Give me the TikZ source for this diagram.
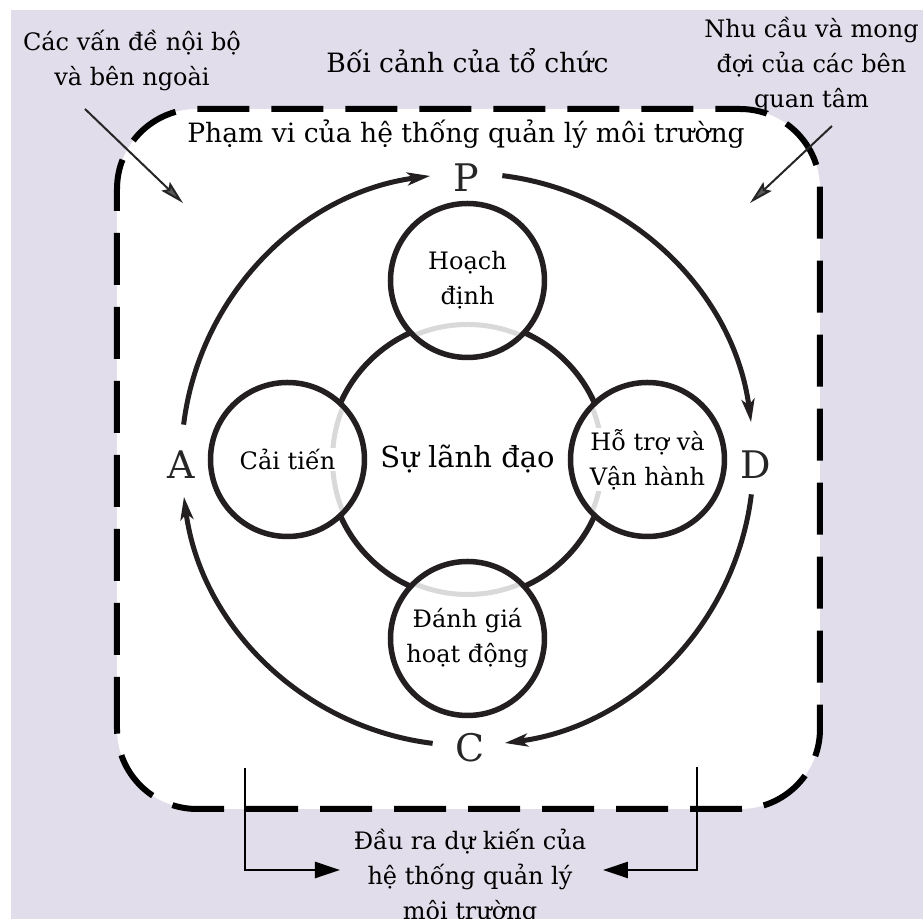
\documentclass[tikz,border=0pt]{standalone}
\usepackage{fontspec}
\setmainfont{DejaVu Serif}
\usepackage{tikz}
\usetikzlibrary{arrows.meta,positioning}

\definecolor{lavbg}{RGB}{225,221,234}
\definecolor{inkgray}{RGB}{35,31,32}

\begin{document}
\begin{tikzpicture}[x=0.5pt,y=0.5pt]
\tikzset{
  phase/.style={circle, draw=inkgray, line width=2.75pt, fill=white, minimum size=77pt, inner sep=0pt},
  phasetext/.style={fill=white, inner xsep=3pt, inner ysep=0.5pt, align=center, font=\fontsize{12}{17.5}\selectfont},
  ctxtext/.style={align=center, inner sep=0pt, font=\fontsize{12}{17.5}\selectfont},
  headtext/.style={inner sep=0pt, font=\fontsize{13.3}{16}\selectfont},
  letter/.style={inner sep=0pt, text=black!85, font=\fontsize{19}{22}\selectfont},
  cyclearrow/.style={draw=inkgray, line width=2.5pt, -{Stealth[length=11.5pt,width=6.5pt,inset=3pt]}},
  pointer/.style={draw=black!85, line width=1pt, -{Stealth[length=12pt,width=6pt,inset=2pt,fill=black!65]}},
  outarrow/.style={draw=black, line width=1.25pt, -{Triangle[length=12.5pt,width=8pt]}},
  scopeline/.style={draw=black, line width=3pt, dash pattern=on 26pt off 11pt, rounded corners=40pt, fill=white}
}
\useasboundingbox (-467.5,-459.5) rectangle (455.5,459.5);
\fill[lavbg] (-456.5,-459.5) rectangle (455.5,449.5);
\draw[scopeline] (-350.5,-349.5) rectangle (352.5,350.5);

% context and scope (base = last line)
\node[headtext, anchor=base] (context) at (0,386.5) {Bối cảnh của tổ chức};
\node[headtext, anchor=base] (ems-scope) at (-1.5,316.5) {Phạm vi của hệ thống quản lý môi trường};
\node[ctxtext, anchor=base] (issues) at (-335.5,373.5) {Các vấn đề nội bộ\\và bên ngoài};
\node[ctxtext, anchor=base] (needs) at (344,351.5) {Nhu cầu và mong\\đợi của các bên\\quan tâm};
\node[ctxtext, anchor=base] (output) at (2.5,-460.5) {Đầu ra dự kiến của\\hệ thống quản lý\\môi trường};

% leadership ring and the four phases
\node[circle, draw=inkgray, line width=2.75pt, minimum size=139pt, inner sep=0pt,
      font=\fontsize{14.5}{17}\selectfont] (lead) at (0,0) {Sự lãnh đạo};
\node[phase] (plan) at (0,179) {};
\node[phase] (support) at (180,0) {};
\node[phase] (check) at (0,-179) {};
\node[phase] (improve) at (-180,0) {};

\begin{scope}
  \clip (plan) circle (74) (support) circle (74) (check) circle (74) (improve) circle (74);
  \draw[black!15, line width=2.5pt] (lead.center) circle (135);
\end{scope}

\node[phasetext] (plan-t) at (plan) {Hoạch\\định};
\node[phasetext] (support-t) at (support) {Hỗ trợ và\\Vận hành};
\node[phasetext] (check-t) at (check) {Đánh giá\\hoạt động};
\node[phasetext] (improve-t) at (improve) {Cải tiến};

% PDCA
\node[letter] (P) at (-1.5,281.5) {P};
\node[letter] (D) at (288.5,-5.5) {D};
\node[letter] (C) at (2.5,-288.5) {C};
\node[letter] (A) at (-286.5,-5.5) {A};
\foreach \s/\e in {83/7.5, -7/-82.5, -97/-172.5, 173/97.5}
  \draw[cyclearrow] (\s:286) arc[start angle=\s, end angle=\e, radius=286];

% pointers
\coordinate (issues-tail) at (-382.5,350.5);
\coordinate (issues-tip) at (-284.5,256.5);
\coordinate (needs-tail) at (364.5,333.5);
\coordinate (needs-tip) at (282.5,256.5);
\draw[pointer] (issues-tail) -- (issues-tip);
\draw[pointer] (needs-tail) -- (needs-tip);

\coordinate (out-l) at (-222.5,-308.5);
\coordinate (out-r) at (229.5,-307.5);
\coordinate (out-ltip) at (-127.5,-410.5);
\coordinate (out-rtip) at (135.5,-410.5);
\draw[outarrow] (out-l) |- (out-ltip);
\draw[outarrow] (out-r) |- (out-rtip);
\end{tikzpicture}
\end{document}
